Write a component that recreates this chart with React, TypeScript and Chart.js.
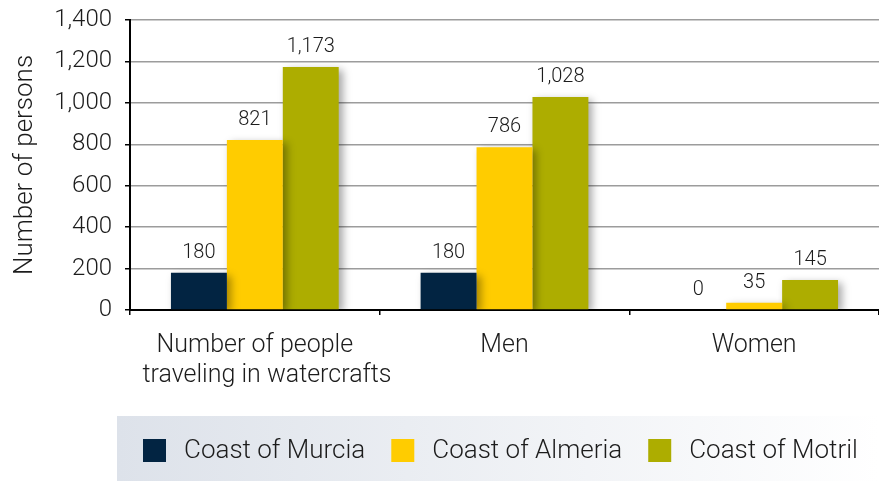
import React, { useEffect, useRef } from "react";
import { Chart, registerables } from "chart.js";

Chart.register(...registerables);

const categories: (string | string[])[] = [
  ["Number of people", "    traveling in watercrafts"],
  "Men",
  "Women",
];
const seriesNames = ["Coast of Murcia", "Coast of Almeria", "Coast of Motril"];
const murcia = [180, 180, 0];
const almeria = [821, 786, 35];
const motril = [1173, 1028, 145];
const seriesColors = ["#022442", "#FFCC00", "#ADAD00"];
const yTicks = [0, 200, 400, 600, 800, 1000, 1200, 1400];

const FONT = "Roboto, 'Liberation Sans', sans-serif";
const TEXT = "#1c1c1c";

const fmt = (v: number) => v.toLocaleString("en-US");

const barShadow = {
  id: "barShadow",
  beforeDatasetDraw(chart: any) {
    const ctx = chart.ctx;
    ctx.save();
    ctx.shadowColor = "rgba(0,0,0,0.35)";
    ctx.shadowBlur = 8;
    ctx.shadowOffsetX = 4;
    ctx.shadowOffsetY = 3;
  },
  afterDatasetDraw(chart: any) {
    chart.ctx.restore();
  },
};

const valueLabels = {
  id: "valueLabels",
  afterDatasetsDraw(chart: any) {
    const ctx = chart.ctx;
    ctx.save();
    ctx.font = `300 20px ${FONT}`;
    ctx.fillStyle = TEXT;
    ctx.textAlign = "center";
    ctx.textBaseline = "middle";
    chart.data.datasets.forEach((ds: any, i: number) => {
      const meta = chart.getDatasetMeta(i);
      meta.data.forEach((el: any, j: number) => {
        ctx.fillText(fmt(ds.data[j]), el.x, el.y - 20);
      });
    });
    ctx.restore();
  },
};

const boxLegend = {
  id: "boxLegend",
  afterDraw(chart: any) {
    const ctx = chart.ctx;
    const bx = 117;
    const by = 416;
    const bw = chart.width - bx;
    const bh = chart.height - by;
    ctx.save();
    const g = ctx.createLinearGradient(bx, 0, bx + bw, 0);
    g.addColorStop(0, "#dde2ea");
    g.addColorStop(1, "#ffffff");
    ctx.fillStyle = g;
    ctx.fillRect(bx, by, bw, bh);

    ctx.font = `300 26px ${FONT}`;
    ctx.textBaseline = "middle";
    ctx.textAlign = "left";
    const sq = 23;
    const gapText = 18;
    const gapItem = 26;
    const ds = chart.data.datasets;
    let x = bx + 26;
    const cy = by + bh / 2 + 2;
    ds.forEach((d: any) => {
      ctx.fillStyle = d.backgroundColor;
      ctx.fillRect(x, cy - sq / 2, sq, sq);
      x += sq + gapText;
      ctx.fillStyle = TEXT;
      ctx.fillText(d.label, x, cy + 1);
      x += ctx.measureText(d.label).width + gapItem;
    });
    ctx.restore();
  },
};

export default function App() {
  const ref = useRef<HTMLCanvasElement>(null);
  useEffect(() => {
    if (!ref.current) return;
    const values = [murcia, almeria, motril];
    const chart = new Chart(ref.current, {
      type: "bar",
      data: {
        labels: categories,
        datasets: seriesNames.map((name, i) => ({
          label: name,
          data: values[i],
          backgroundColor: seriesColors[i],
          borderWidth: 0,
          barPercentage: 1,
          categoryPercentage: 0.672,
        })),
      },
      options: {
        animation: false,
        responsive: false,
        layout: { padding: { left: 0, right: 0, top: 20, bottom: 65 } },
        plugins: {
          legend: { display: false },
          tooltip: { enabled: false },
        },
        scales: {
          x: {
            grid: {
              offset: true,
              drawOnChartArea: false,
              drawTicks: true,
              tickLength: 5,
              tickColor: "#000",
              lineWidth: 1.5,
            },
            border: { color: "#000", width: 2 },
            ticks: {
              color: TEXT,
              padding: 16,
              maxRotation: 0,
              autoSkip: false,
              font: { family: FONT, size: 25, weight: "300", lineHeight: 1.2 },
            },
            afterFit: (s: any) => {
              s.height = 106;
              s.paddingLeft = 0;
              s.paddingRight = 0;
            },
          },
          y: {
            min: 0,
            max: 1400,
            afterBuildTicks: (s: any) => {
              s.ticks = yTicks.map((v) => ({ value: v }));
            },
            grid: {
              color: "#9c9c9c",
              lineWidth: 1.5,
              tickLength: 5,
              tickColor: "#000",
            },
            border: { color: "#000", width: 2 },
            ticks: {
              color: TEXT,
              padding: 13,
              callback: (v: any) => fmt(Number(v)),
              font: { family: FONT, size: 24, weight: "300" },
            },
            title: {
              display: true,
              text: "Number of persons",
              color: TEXT,
              padding: { top: 10, bottom: 0 },
              font: { family: FONT, size: 26, weight: "300", lineHeight: 1.2 },
            },
            afterFit: (s: any) => {
              s.width = 130;
              s.paddingTop = 0;
              s.paddingBottom = 0;
            },
          },
        },
      },
      plugins: [barShadow, valueLabels, boxLegend],
    });
    return () => chart.destroy();
  }, []);
  return (
    <div style={{ position: "absolute", left: 0, top: 0, width: 879, height: 481 }}>
      <canvas ref={ref} width={879} height={481} />
    </div>
  );
}
